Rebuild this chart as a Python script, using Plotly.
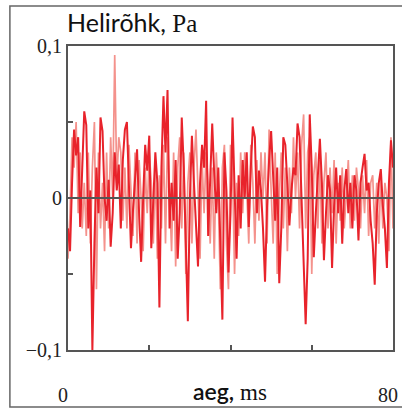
import plotly.graph_objects as go

dt_ms = 0.5

series_dark = [
    -0.020, -0.035, 0.010, 0.045, 0.028, 0.040, -0.019, 0.015, 0.057, 0.048,
    -0.020, 0.005, -0.100, -0.030, 0.020, -0.010, 0.053, 0.044, 0.000, -0.015,
    0.012, -0.032, -0.010, 0.030, 0.005, 0.022, -0.020, 0.025, 0.045, 0.050,
    0.010, -0.033, -0.008, 0.015, 0.032, -0.010, -0.042, 0.000, 0.035, 0.018,
    0.041, -0.033, -0.005, 0.030, 0.010, -0.072, 0.020, 0.067, 0.030, 0.071,
    -0.020, 0.010, -0.015, 0.025, -0.040, -0.010, 0.053, 0.020, -0.030, -0.081,
    0.000, 0.041, 0.010, -0.020, -0.045, 0.010, 0.035, 0.020, 0.064, -0.025,
    0.020, 0.049, 0.015, -0.010, 0.020, -0.030, -0.080, 0.030, 0.005, -0.049,
    -0.010, 0.053, 0.010, -0.040, 0.015, -0.020, 0.025, 0.000, 0.030, -0.019,
    0.020, 0.047, 0.040, -0.010, 0.018, 0.005, -0.020, -0.055, -0.005, 0.025,
    0.044, 0.010, -0.015, 0.020, -0.056, -0.020, 0.040, 0.035, 0.010, -0.018,
    0.005, 0.020, 0.015, 0.049, 0.040, 0.000, -0.030, -0.083, -0.040, 0.055,
    0.020, -0.039, -0.010, 0.015, 0.039, 0.010, -0.041, -0.010, 0.015, 0.005,
    -0.046, -0.005, 0.020, -0.010, 0.015, -0.030, 0.005, 0.019, -0.010, 0.010,
    -0.020, 0.015, 0.005, -0.028, 0.010, 0.020, 0.029, 0.005, 0.010, -0.015,
    -0.030, -0.057, -0.010, 0.010, 0.019, -0.005, -0.020, -0.046, 0.010, 0.038,
    0.020,
]

series_light = [
    -0.040, -0.010, 0.040, 0.020, 0.050, -0.010, 0.030, -0.020, 0.010, -0.025,
    0.030, -0.030, 0.020, 0.050, -0.060, 0.030, -0.020, 0.010, -0.035, 0.030,
    -0.020, 0.040, 0.000, 0.094, 0.010, 0.040, 0.030, -0.015, 0.020, -0.020,
    0.035, 0.000, -0.025, 0.030, -0.030, 0.025, 0.000, -0.035, 0.020, -0.010,
    0.030, 0.010, -0.030, 0.020, -0.040, 0.015, -0.020, 0.035, -0.030, 0.040,
    0.000, -0.035, 0.030, -0.045, 0.020, 0.040, -0.020, 0.030, -0.050, 0.010,
    0.030, -0.030, 0.020, 0.045, 0.005, -0.040, 0.025, -0.010, 0.030, 0.010,
    -0.030, 0.020, -0.040, 0.030, 0.000, -0.060, 0.020, 0.035, -0.030, -0.060,
    0.035, 0.020, -0.050, 0.010, -0.025, 0.030, -0.010, 0.030, 0.005, -0.030,
    0.035, 0.010, -0.030, 0.025, -0.015, 0.030, 0.000, 0.030, -0.030, 0.045,
    0.005, -0.030, 0.030, -0.050, 0.000, 0.030, -0.020, 0.020, -0.035, 0.020,
    -0.010, 0.040, 0.000, 0.030, -0.020, 0.035, 0.055, -0.020, 0.030, 0.040,
    -0.050, 0.015, 0.030, -0.020, 0.025, -0.030, 0.010, 0.030, -0.020, 0.020,
    -0.010, 0.025, -0.030, 0.010, -0.015, 0.020, -0.020, 0.005, 0.025, -0.020,
    0.015, -0.015, 0.020, 0.005, -0.020, 0.015, -0.010, 0.025, -0.025, 0.010,
    0.015, -0.020, 0.010, -0.030, 0.015, -0.020, 0.010, 0.000, -0.035, 0.040,
    -0.020,
]

time_ms = [i * dt_ms for i in range(len(series_dark))]

x_tickvals = [0, 20, 40, 60, 80]
x_ticktext = ["0", "", "", "", "80"]
y_tickvals = [-0.1, -0.05, 0, 0.05, 0.1]
y_ticktext = ["\u22120,1", "", "0", "", "0,1"]

fig = go.Figure()
fig.add_trace(go.Scatter(x=time_ms, y=series_light, mode="lines",
                         line=dict(color="#f4928c", width=1.7), showlegend=False))
fig.add_trace(go.Scatter(x=time_ms, y=series_dark, mode="lines",
                         line=dict(color="#e8232b", width=2.0), showlegend=False))

W, H = 402, 410
L, R, T, B = 68, 4, 46, 60
pw, ph = W - L - R, H - T - B

def px(x):
    return (x - L) / pw

def py(y):
    return (H - B - y) / ph

serif = "Liberation Serif, DejaVu Serif, serif"
sans = "Lato, Open Sans, sans-serif"

fig.update_layout(
    width=W, height=H,
    margin=dict(l=L, r=R, t=T, b=B),
    paper_bgcolor="white", plot_bgcolor="white",
    xaxis=dict(range=[0, 80], tickvals=x_tickvals, ticktext=x_ticktext,
               ticks="inside", ticklen=5, tickwidth=2, tickcolor="#555",
               showline=True, linecolor="#555", linewidth=2, mirror=True,
               showgrid=False, zeroline=False, ticklabelstandoff=26,
               ticklabeloverflow="allow", ticklabelshift=-5,
               tickfont=dict(family=serif, size=20, color="#222")),
    yaxis=dict(range=[-0.1, 0.1], tickvals=y_tickvals, ticktext=y_ticktext,
               ticks="inside", ticklen=5, tickwidth=2, tickcolor="#555",
               showline=True, linecolor="#555", linewidth=2, mirror=True,
               showgrid=False, zeroline=False,
               tickfont=dict(family=serif, size=20, color="#222")),
)

# zero line drawn above the traces
fig.add_shape(type="line", xref="paper", yref="y", x0=0, x1=1, y0=0, y1=0,
              line=dict(color="#555", width=2), layer="above")

# outer frame
fig.add_shape(type="rect", xref="paper", yref="paper",
              x0=px(9), x1=px(408), y0=py(407), y1=py(6),
              line=dict(color="#666", width=1.5), layer="below")

fig.add_annotation(xref="paper", yref="paper", x=px(65), y=py(39),
                   xanchor="left", yanchor="bottom", showarrow=False,
                   text="<span style='font-family:Lato'>Helirõhk,</span> <span style='font-family:Liberation Serif'>Pa</span>",
                   font=dict(size=25, color="#111", family=sans))

fig.add_annotation(xref="paper", yref="paper", x=px(232), y=py(391),
                   xanchor="center", yanchor="middle", showarrow=False,
                   text="<span style='font-family:Lato;font-weight:600'>aeg,</span> <span style='font-family:Liberation Serif'>ms</span>",
                   font=dict(size=23, color="#111", family=sans))

fig.write_html("out.html")
